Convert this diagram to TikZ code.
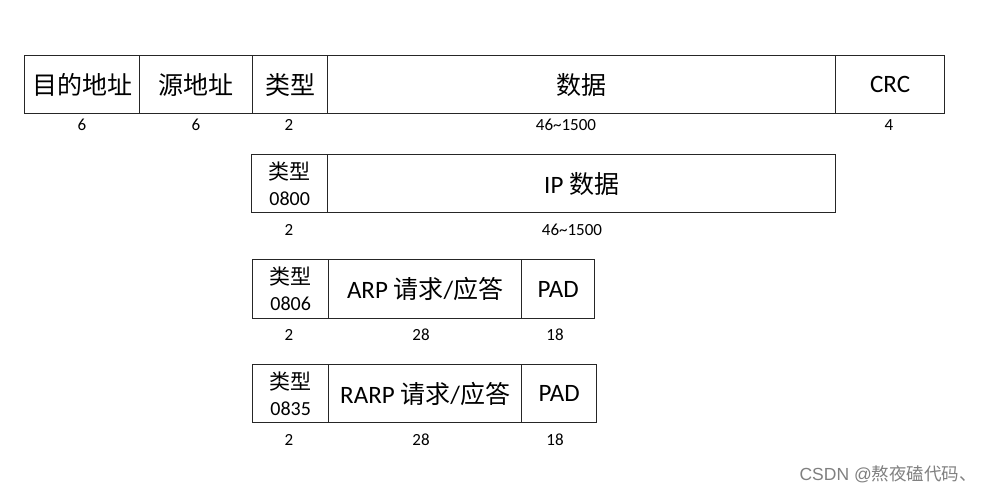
\documentclass[tikz,border=0pt]{standalone}
\usepackage{fontspec}
\setmainfont{Carlito}
\newfontfamily\cjk{Noto Sans CJK SC}
\newfontfamily\wmfont{Liberation Sans}
\begin{document}
\begin{tikzpicture}[x=1pt,y=-1pt,
  field/.style={draw=black!85, line width=1.3pt, anchor=north west, inner sep=0pt, align=center, font=\fontsize{25}{28}\selectfont},
  twoline/.style={font=\fontsize{20}{26}\selectfont},
  num/.style={font=\fontsize{17}{18}\selectfont, inner sep=0pt}]
\useasboundingbox[fill=white] (0,0) rectangle (991,494);
% row 1
\node[field, minimum width=115pt, minimum height=58pt] (dst) at (24,55) {\cjk 目的地址};
\node[field, minimum width=113pt, minimum height=58pt] (src) at (139,55) {\cjk 源地址};
\node[field, minimum width=75pt, minimum height=58pt] (typ) at (252,55) {\cjk 类型};
\node[field, minimum width=508pt, minimum height=58pt] (data) at (327,55) {\cjk 数据};
\node[field, minimum width=109pt, minimum height=58pt] (crc) at (835,55) {CRC};
\node[num] (l1a) at (82,125) {6};
\node[num] (l1b) at (196,125) {6};
\node[num] (l1c) at (289,125) {2};
\node[num] (l1d) at (566,125) {46\char`\~1500};
\node[num] (l1e) at (889,125) {4};
% row 2
\node[field, twoline, minimum width=76pt, minimum height=58pt] (t2) at (251,154) {{\cjk\fontsize{21}{26}\selectfont 类型}\\0800};
\node[field, minimum width=508pt, minimum height=58pt] (ip) at (327,154) {IP {\cjk 数据}};
\node[num] (l2a) at (289,230) {2};
\node[num] (l2b) at (572,230) {46\char`\~1500};
% row 3
\node[field, twoline, minimum width=76pt, minimum height=59pt] (t3) at (252,259) {{\cjk\fontsize{21}{26}\selectfont 类型}\\0806};
\node[field, minimum width=193pt, minimum height=59pt] (arp) at (328,259) {ARP {\cjk 请求}/{\cjk 应答}};
\node[field, minimum width=73pt, minimum height=59pt] (pad3) at (521,259) {PAD};
\node[num] (l3a) at (289,335) {2};
\node[num] (l3b) at (421,335) {28};
\node[num] (l3c) at (555,335) {18};
% row 4
\node[field, twoline, minimum width=76pt, minimum height=58pt] (t4) at (252,364) {{\cjk\fontsize{21}{26}\selectfont 类型}\\0835};
\node[field, minimum width=193pt, minimum height=58pt] (rarp) at (328,364) {RARP {\cjk 请求}/{\cjk 应答}};
\node[field, minimum width=75pt, minimum height=58pt] (pad4) at (521,364) {PAD};
\node[num] (l4a) at (289,440) {2};
\node[num] (l4b) at (421,440) {28};
\node[num] (l4c) at (555,440) {18};
% watermark
\node[anchor=east, text=black!50, inner sep=0pt, font=\wmfont\fontsize{17.5}{19}\selectfont] (wm) at (977,474) {CSDN @{\cjk 熬夜磕代码、}};
\end{tikzpicture}
\end{document}
